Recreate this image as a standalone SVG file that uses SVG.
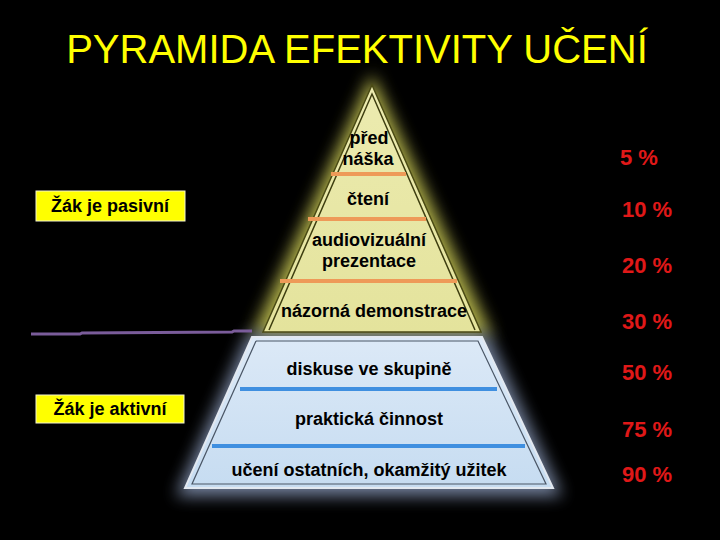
<svg xmlns="http://www.w3.org/2000/svg" width="720" height="540" viewBox="0 0 720 540">
<defs>
<filter id="glow" x="-30%" y="-30%" width="160%" height="160%"><feGaussianBlur stdDeviation="8"/></filter>
<linearGradient id="tri" x1="0" y1="0" x2="0" y2="1"><stop offset="0" stop-color="#ecebb0"/><stop offset="1" stop-color="#e4e39c"/></linearGradient>
<linearGradient id="trap" x1="0" y1="0" x2="0" y2="1"><stop offset="0" stop-color="#dce9f7"/><stop offset="1" stop-color="#c6dcf1"/></linearGradient>
</defs>
<style>
.lbl{font-family:"Liberation Sans",Arial,sans-serif;font-weight:bold;font-size:18px;fill:#000;text-anchor:middle}
.pct{font-family:"Liberation Sans",Arial,sans-serif;font-weight:bold;font-size:22px;fill:#e01818}
.box{fill:#ffff00;stroke:#f4f4d0;stroke-width:1}
.or{stroke:#ee9a58;stroke-width:4}
.bl{stroke:#3f8fe0;stroke-width:4}
</style>
<rect width="720" height="540" fill="#000"/>
<text x="357" y="63" font-family="'Liberation Sans',Arial,sans-serif" font-size="40" fill="#ffff00" text-anchor="middle">PYRAMIDA EFEKTIVITY UČENÍ</text>

<g id="glows">
<polygon points="372,74 492,336 252,336" fill="#b0b048" filter="url(#glow)"/>
<polygon points="248,334 488,334 562,496 176,496" fill="#8898b8" filter="url(#glow)" opacity="0.85"/>
</g>

<g id="pyramid-top">
<polygon points="372,85 481,332 263,332" fill="url(#tri)" stroke="#4a4a14" stroke-width="1.5"/>
<polyline points="269,330 372,94 475,330" fill="none" stroke="#3e3e10" stroke-width="1.5"/>
</g>
<g id="pyramid-bottom">
<polygon points="252,337 482,337 553,488 185,488" fill="url(#trap)" stroke="#e2e8f0" stroke-width="2"/>
<polyline points="256,341 478,341 546,484 192,484 256,341" fill="none" stroke="#4a5666" stroke-width="1.2"/>
</g>

<g id="connectors">
<line x1="331" y1="174" x2="406" y2="174" class="or"/>
<line x1="308" y1="219" x2="426" y2="219" class="or"/>
<line x1="280" y1="281" x2="457" y2="281" class="or"/>
<line x1="240" y1="389" x2="497" y2="389" class="bl"/>
<line x1="212" y1="446" x2="525" y2="446" class="bl"/>
<polyline points="31,334 80,334 82,333 232,332 234,331 252,331" fill="none" stroke="#7a5c9a" stroke-width="3"/>
</g>

<g id="n-prednaska"><text class="lbl" x="369" y="144">před</text><text class="lbl" x="368" y="165">náška</text></g>
<g id="n-cteni"><text class="lbl" x="368" y="205">čtení</text></g>
<g id="n-av"><text class="lbl" x="369" y="246">audiovizuální</text><text class="lbl" x="369" y="267">prezentace</text></g>
<g id="n-demo"><text class="lbl" x="374" y="317">názorná demonstrace</text></g>
<g id="n-diskuse"><text class="lbl" x="369" y="375">diskuse ve skupině</text></g>
<g id="n-prakt"><text class="lbl" x="369" y="425">praktická činnost</text></g>
<g id="n-uceni"><text class="lbl" x="369" y="476">učení ostatních, okamžitý užitek</text></g>

<g id="n-pasivni"><rect class="box" x="36" y="191" width="149" height="30"/><text class="lbl" x="110" y="212">Žák je pasivní</text></g>
<g id="n-aktivni"><rect class="box" x="36" y="395" width="148" height="28"/><text class="lbl" x="110" y="415">Žák je aktivní</text></g>

<g id="percent">
<text class="pct" x="620" y="165">5 %</text>
<text class="pct" x="622" y="217">10 %</text>
<text class="pct" x="622" y="273">20 %</text>
<text class="pct" x="622" y="329">30 %</text>
<text class="pct" x="622" y="380">50 %</text>
<text class="pct" x="622" y="437">75 %</text>
<text class="pct" x="622" y="482">90 %</text>
</g>
</svg>
